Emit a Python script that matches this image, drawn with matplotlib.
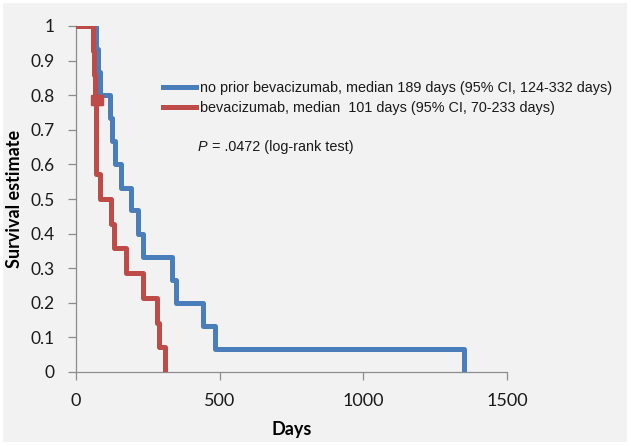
import matplotlib
matplotlib.use("Agg")
import matplotlib.pyplot as plt
from matplotlib.patches import Rectangle

# Kaplan-Meier style step data
blue_days = [0, 70, 76, 82, 118, 126, 136, 157, 190, 217, 234, 335, 347, 443, 484, 1349]
blue_surv = [1, 0.933, 0.867, 0.8, 0.733, 0.667, 0.6, 0.533, 0.467, 0.4, 0.333, 0.267, 0.2, 0.133, 0.067, 0]
red_days = [0, 60, 64, 67, 71, 85, 121, 132, 174, 234, 281, 289, 310]
red_surv = [1, 0.929, 0.857, 0.786, 0.571, 0.5, 0.429, 0.357, 0.286, 0.214, 0.143, 0.071, 0]
censor_days = [68, 76]
censor_surv = [0.786, 0.786]

blue_label = "no prior bevacizumab, median 189 days (95% CI, 124-332 days)"
red_label = "bevacizumab, median  101 days (95% CI, 70-233 days)"
x_ticks = [0, 500, 1000, 1500]
y_ticks = [0, 0.1, 0.2, 0.3, 0.4, 0.5, 0.6, 0.7, 0.8, 0.9, 1]
y_tick_labels = ["0", "0.1", "0.2", "0.3", "0.4", "0.5", "0.6", "0.7", "0.8", "0.9", "1"]

BLUE = "#4a7ebb"
RED = "#be4b48"
W, H = 631, 446

fig = plt.figure(figsize=(W / 100, H / 100), dpi=100, facecolor="white")
fig.patches.append(Rectangle((3 / W, 4 / H), 624 / W, 439 / H, transform=fig.transFigure,
                             facecolor="#f2f2f2", edgecolor="none", zorder=-10))

ax = fig.add_axes([76 / W, (H - 372) / H, (507 - 76) / W, (372 - 26) / H])
ax.set_facecolor("none")

ax.step(blue_days, blue_surv, where="post", color=BLUE, lw=3.6, label=blue_label, zorder=3)
ax.step(red_days, red_surv, where="post", color=RED, lw=3.6, label=red_label, zorder=4)
ax.plot(censor_days, censor_surv, ls="none", marker="s", ms=7.5, color=RED, zorder=5)

ax.set_xlim(0, 1500)
ax.set_ylim(0, 1)
ax.set_xticks(x_ticks)
ax.set_yticks(y_ticks)
ax.set_yticklabels(y_tick_labels)
for lab in ax.get_xticklabels():
    lab.set_fontfamily("Lato")
    lab.set_fontsize(13)
    lab.set_color("#1a1a1a")
for lab in ax.get_yticklabels():
    lab.set_fontfamily("Lato")
    lab.set_fontsize(12.5)
    lab.set_color("#1a1a1a")

for s in ["top", "right"]:
    ax.spines[s].set_visible(False)
for s in ["left", "bottom"]:
    ax.spines[s].set_color("#8c8c8c")
    ax.spines[s].set_linewidth(0.9)
ax.tick_params(direction="out", length=6, width=0.9, color="#8c8c8c")
ax.tick_params(axis="y", pad=9.5)
ax.tick_params(axis="x", pad=9)

ax.set_xlabel("Days", family="Lato", fontweight="bold", fontsize=13, labelpad=9)
ax.set_ylabel("Survival estimate", family="Lato", fontweight="bold", fontsize=13, labelpad=5)

leg = ax.legend(loc="upper left", bbox_to_anchor=(156 / W, 1 - 74 / H), bbox_transform=fig.transFigure,
                frameon=False, prop={"family": "Liberation Sans", "size": 10.4},
                handlelength=2.3, handletextpad=0.25, labelspacing=0.4, borderpad=0)
for t in leg.get_texts():
    t.set_color("#1a1a1a")

p_txt = fig.text(198 / W, 1 - 147 / H, "P", family="Liberation Sans", style="italic",
                 fontsize=10.4, va="center", color="#1a1a1a")
ax.annotate(" = .0472 (log-rank test)", xy=(1, 0.5), xycoords=p_txt, va="center",
            family="Liberation Sans", fontsize=10.4, color="#1a1a1a")

fig.savefig("out.png", dpi=100, facecolor=fig.get_facecolor())
